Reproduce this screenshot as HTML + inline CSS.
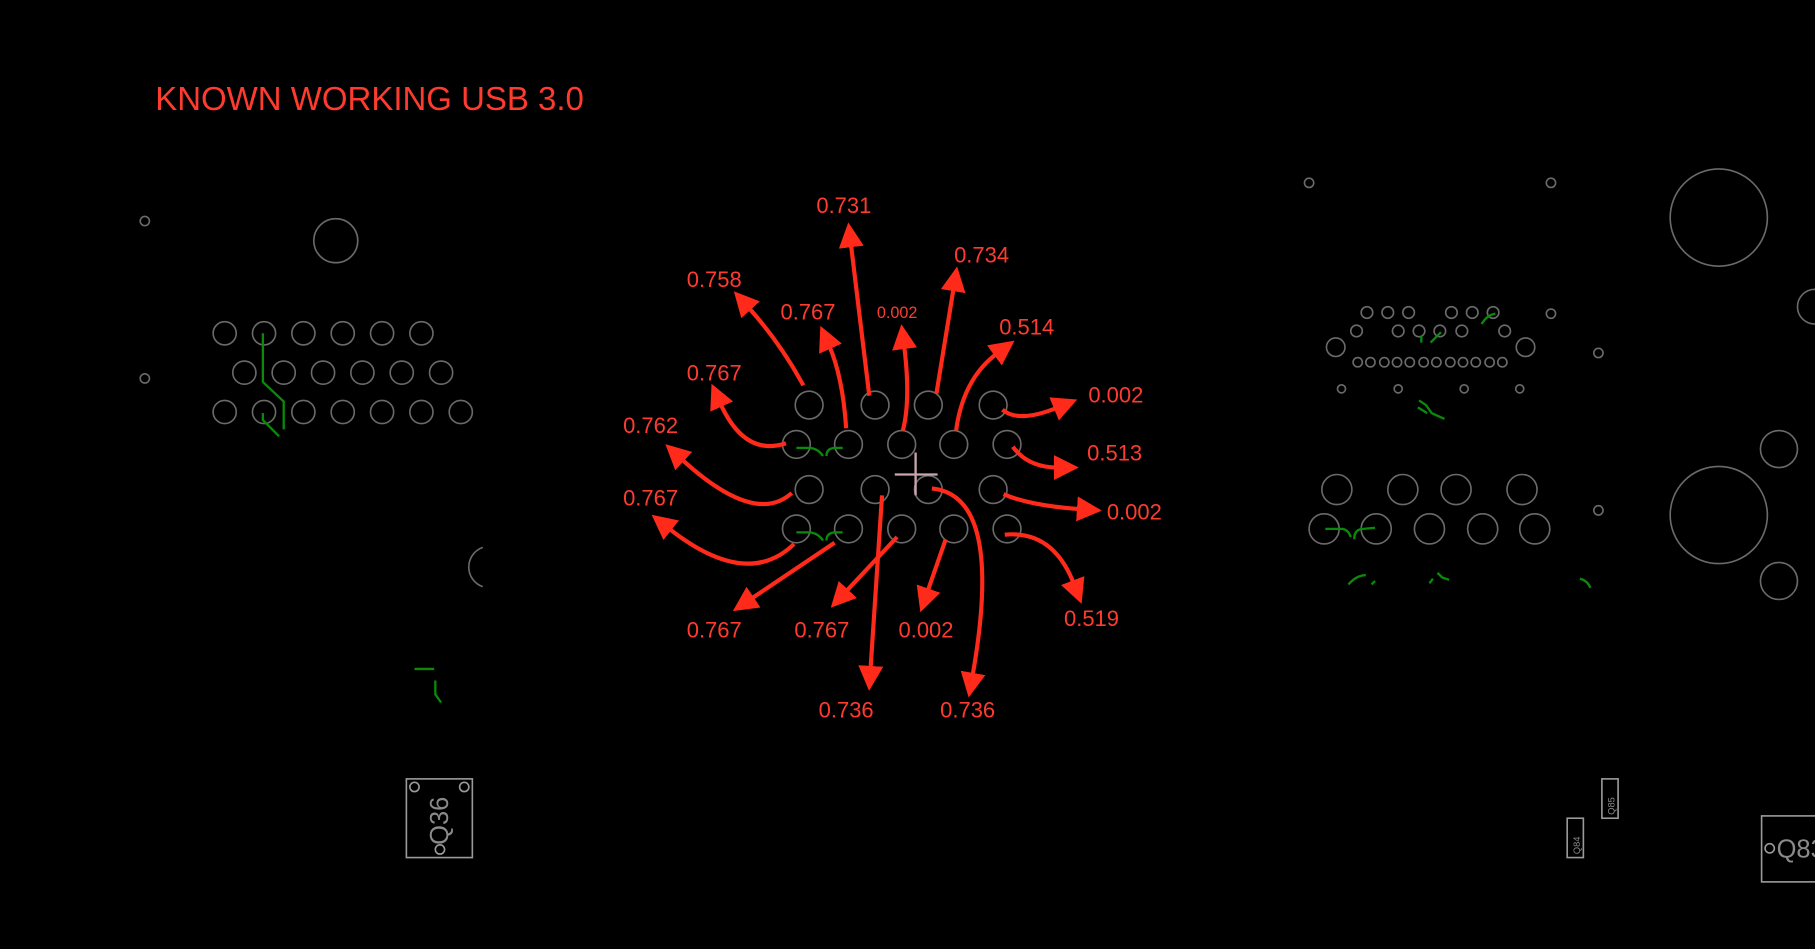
<!DOCTYPE html>
<html><head><meta charset="utf-8"><style>
html,body{margin:0;padding:0;background:#000;width:1815px;height:949px;overflow:hidden}
svg{display:block}
text{font-family:"Liberation Sans",Arial,sans-serif}
</style></head><body>
<svg width="1815" height="949" viewBox="0 0 1568 820" xmlns="http://www.w3.org/2000/svg">
<defs>
<marker id="ah" markerWidth="6" markerHeight="6" refX="1" refY="3" orient="auto" markerUnits="strokeWidth">
<path d="M0,0 L6,3 L0,6 Z" fill="#ff2a1a"/>
</marker>
</defs>
<rect width="1568" height="820" fill="#000"/>
<text x="134" y="95" font-size="28.5" fill="#ff3b30">KNOWN WORKING USB 3.0</text>

<g fill="none" stroke="#6a6a6a" stroke-width="1.4">
<circle cx="290" cy="208" r="19"/>
<circle cx="125" cy="191" r="4"/><circle cx="125" cy="327" r="4"/>
<circle cx="194" cy="288" r="10"/><circle cx="228" cy="288" r="10"/><circle cx="262" cy="288" r="10"/><circle cx="296" cy="288" r="10"/><circle cx="330" cy="288" r="10"/><circle cx="364" cy="288" r="10"/>
<circle cx="211" cy="322" r="10"/><circle cx="245" cy="322" r="10"/><circle cx="279" cy="322" r="10"/><circle cx="313" cy="322" r="10"/><circle cx="347" cy="322" r="10"/><circle cx="381" cy="322" r="10"/>
<circle cx="194" cy="356" r="10"/><circle cx="228" cy="356" r="10"/><circle cx="262" cy="356" r="10"/><circle cx="296" cy="356" r="10"/><circle cx="330" cy="356" r="10"/><circle cx="364" cy="356" r="10"/><circle cx="398" cy="356" r="10"/>
<path d="M417,473 A18,18 0 0 0 417,507"/>
<circle cx="699" cy="350" r="12"/><circle cx="756" cy="350" r="12"/><circle cx="802" cy="350" r="12"/><circle cx="858" cy="350" r="12"/>
<circle cx="688" cy="384" r="12"/><circle cx="733" cy="384" r="12"/><circle cx="779" cy="384" r="12"/><circle cx="824" cy="384" r="12"/><circle cx="870" cy="384" r="12"/>
<circle cx="699" cy="423" r="12"/><circle cx="756" cy="423" r="12"/><circle cx="802" cy="423" r="12"/><circle cx="858" cy="423" r="12"/>
<circle cx="688" cy="457" r="12"/><circle cx="733" cy="457" r="12"/><circle cx="779" cy="457" r="12"/><circle cx="824" cy="457" r="12"/><circle cx="870" cy="457" r="12"/>
<circle cx="1131" cy="158" r="4"/><circle cx="1340" cy="158" r="4"/>
<circle cx="1485" cy="188" r="42"/><circle cx="1485" cy="445" r="42"/>
<circle cx="1537" cy="388" r="16"/><circle cx="1537" cy="502" r="16"/><circle cx="1568" cy="265" r="15"/>
<circle cx="1181" cy="270" r="5"/><circle cx="1199" cy="270" r="5"/><circle cx="1217" cy="270" r="5"/><circle cx="1254" cy="270" r="5"/><circle cx="1272" cy="270" r="5"/><circle cx="1290" cy="270" r="5"/>
<circle cx="1340" cy="271" r="4"/>
<circle cx="1172" cy="286" r="5"/><circle cx="1208" cy="286" r="5"/><circle cx="1226" cy="286" r="5"/><circle cx="1244" cy="286" r="5"/><circle cx="1263" cy="286" r="5"/><circle cx="1300" cy="286" r="5"/>
<circle cx="1154" cy="300" r="8"/><circle cx="1318" cy="300" r="8"/><circle cx="1381" cy="305" r="4"/>
<circle cx="1173" cy="313" r="4"/><circle cx="1184" cy="313" r="4"/><circle cx="1196" cy="313" r="4"/><circle cx="1207" cy="313" r="4"/><circle cx="1218" cy="313" r="4"/><circle cx="1230" cy="313" r="4"/><circle cx="1241" cy="313" r="4"/><circle cx="1253" cy="313" r="4"/><circle cx="1264" cy="313" r="4"/><circle cx="1275" cy="313" r="4"/><circle cx="1287" cy="313" r="4"/><circle cx="1298" cy="313" r="4"/>
<circle cx="1159" cy="336" r="3.5"/><circle cx="1208" cy="336" r="3.5"/><circle cx="1265" cy="336" r="3.5"/><circle cx="1313" cy="336" r="3.5"/>
<circle cx="1155" cy="423" r="13"/><circle cx="1212" cy="423" r="13"/><circle cx="1258" cy="423" r="13"/><circle cx="1315" cy="423" r="13"/>
<circle cx="1144" cy="457" r="13"/><circle cx="1189" cy="457" r="13"/><circle cx="1235" cy="457" r="13"/><circle cx="1281" cy="457" r="13"/><circle cx="1326" cy="457" r="13"/>
<circle cx="1381" cy="441" r="4"/>
</g>

<g fill="none" stroke="#0a8a0a" stroke-width="2">
<path d="M227,288 L227,330 L245,347 L245,371"/>
<path d="M227,357 L227,363 L241,377"/>
<path d="M358,578 L375,578 M376,588 L376,600 L381,607"/>
<path d="M688,387 L700,387 Q707,388 711,394 M714,394 Q714,387 722,387 L728,387"/>
<path d="M688,460 L700,460 Q707,461 711,467 M714,467 Q714,460 722,460 L728,460"/>
<path d="M1145,457 L1160,457 Q1165,458 1167,464 M1170,466 Q1170,457 1178,457 L1188,456"/>
<path d="M1280,280 Q1285,272 1292,271 M1228,290 L1228,296 M1236,296 L1245,287"/>
<path d="M1226,346 L1232,350 L1237,357 L1248,362 M1225,352 L1233,357"/>
<path d="M1165,505 Q1172,497 1180,497 M1185,505 L1188,502 M1235,504 L1238,500 M1242,495 L1246,499 L1252,501 M1365,500 Q1372,502 1374,508"/>
</g>

<path d="M773,410 L810,410 M791,391 L791,428" stroke="#c9a6ae" stroke-width="2"/>

<g fill="none" stroke="#ff2a1a" stroke-width="3.6" marker-end="url(#ah)">
<path d="M694,333 Q674,296 646,265"/>
<path d="M731,370 Q728,325 716,298"/>
<path d="M751,342 L735,210"/>
<path d="M780,372 Q787,345 781,298"/>
<path d="M809,340 L824,248"/>
<path d="M826,372 Q832,327 862,305"/>
<path d="M866,354 Q880,366 914,352"/>
<path d="M875,386 Q888,404 914,404"/>
<path d="M867,427 Q890,437 934,440"/>
<path d="M868,462 Q910,458 928,505"/>
<path d="M805,422 Q868,428 840,585"/>
<path d="M817,466 L801,512"/>
<path d="M762,428 L752,579"/>
<path d="M775,464 L730,512"/>
<path d="M721,469 L648,518"/>
<path d="M686,470 Q645,510 577,456"/>
<path d="M684,426 Q652,455 588,396"/>
<path d="M679,383 Q643,395 622,348"/>
</g>

<g fill="#ff3b30" font-size="19" text-anchor="middle">
<text x="617" y="248">0.758</text>
<text x="698" y="276">0.767</text>
<text x="729" y="184">0.731</text>
<text x="775" y="275" font-size="14">0.002</text>
<text x="848" y="227">0.734</text>
<text x="887" y="289">0.514</text>
<text x="964" y="348">0.002</text>
<text x="963" y="398">0.513</text>
<text x="980" y="449">0.002</text>
<text x="943" y="541">0.519</text>
<text x="836" y="620">0.736</text>
<text x="800" y="551">0.002</text>
<text x="731" y="620">0.736</text>
<text x="710" y="551">0.767</text>
<text x="617" y="551">0.767</text>
<text x="562" y="437">0.767</text>
<text x="562" y="374">0.762</text>
<text x="617" y="329">0.767</text>
</g>

<g fill="none" stroke="#9a9a9a" stroke-width="1.4">
<rect x="351" y="673" width="57" height="68"/>
<circle cx="358" cy="680" r="4"/><circle cx="401" cy="680" r="4"/><circle cx="380" cy="734" r="4"/>
<rect x="1522" y="705" width="50" height="57"/>
<circle cx="1529" cy="733" r="4"/>
<rect x="1354" y="707" width="14" height="34"/>
<rect x="1384" y="673" width="14" height="34"/>
</g>
<text transform="translate(387,730) rotate(-90)" font-size="22" fill="#8a8a8a">Q36</text>
<text x="1535" y="741" font-size="22" fill="#8a8a8a">Q83</text>
<text transform="translate(1365,738) rotate(-90)" font-size="8" fill="#8a8a8a">Q84</text>
<text transform="translate(1395,704) rotate(-90)" font-size="8" fill="#8a8a8a">Q85</text>
</svg>
</body></html>
